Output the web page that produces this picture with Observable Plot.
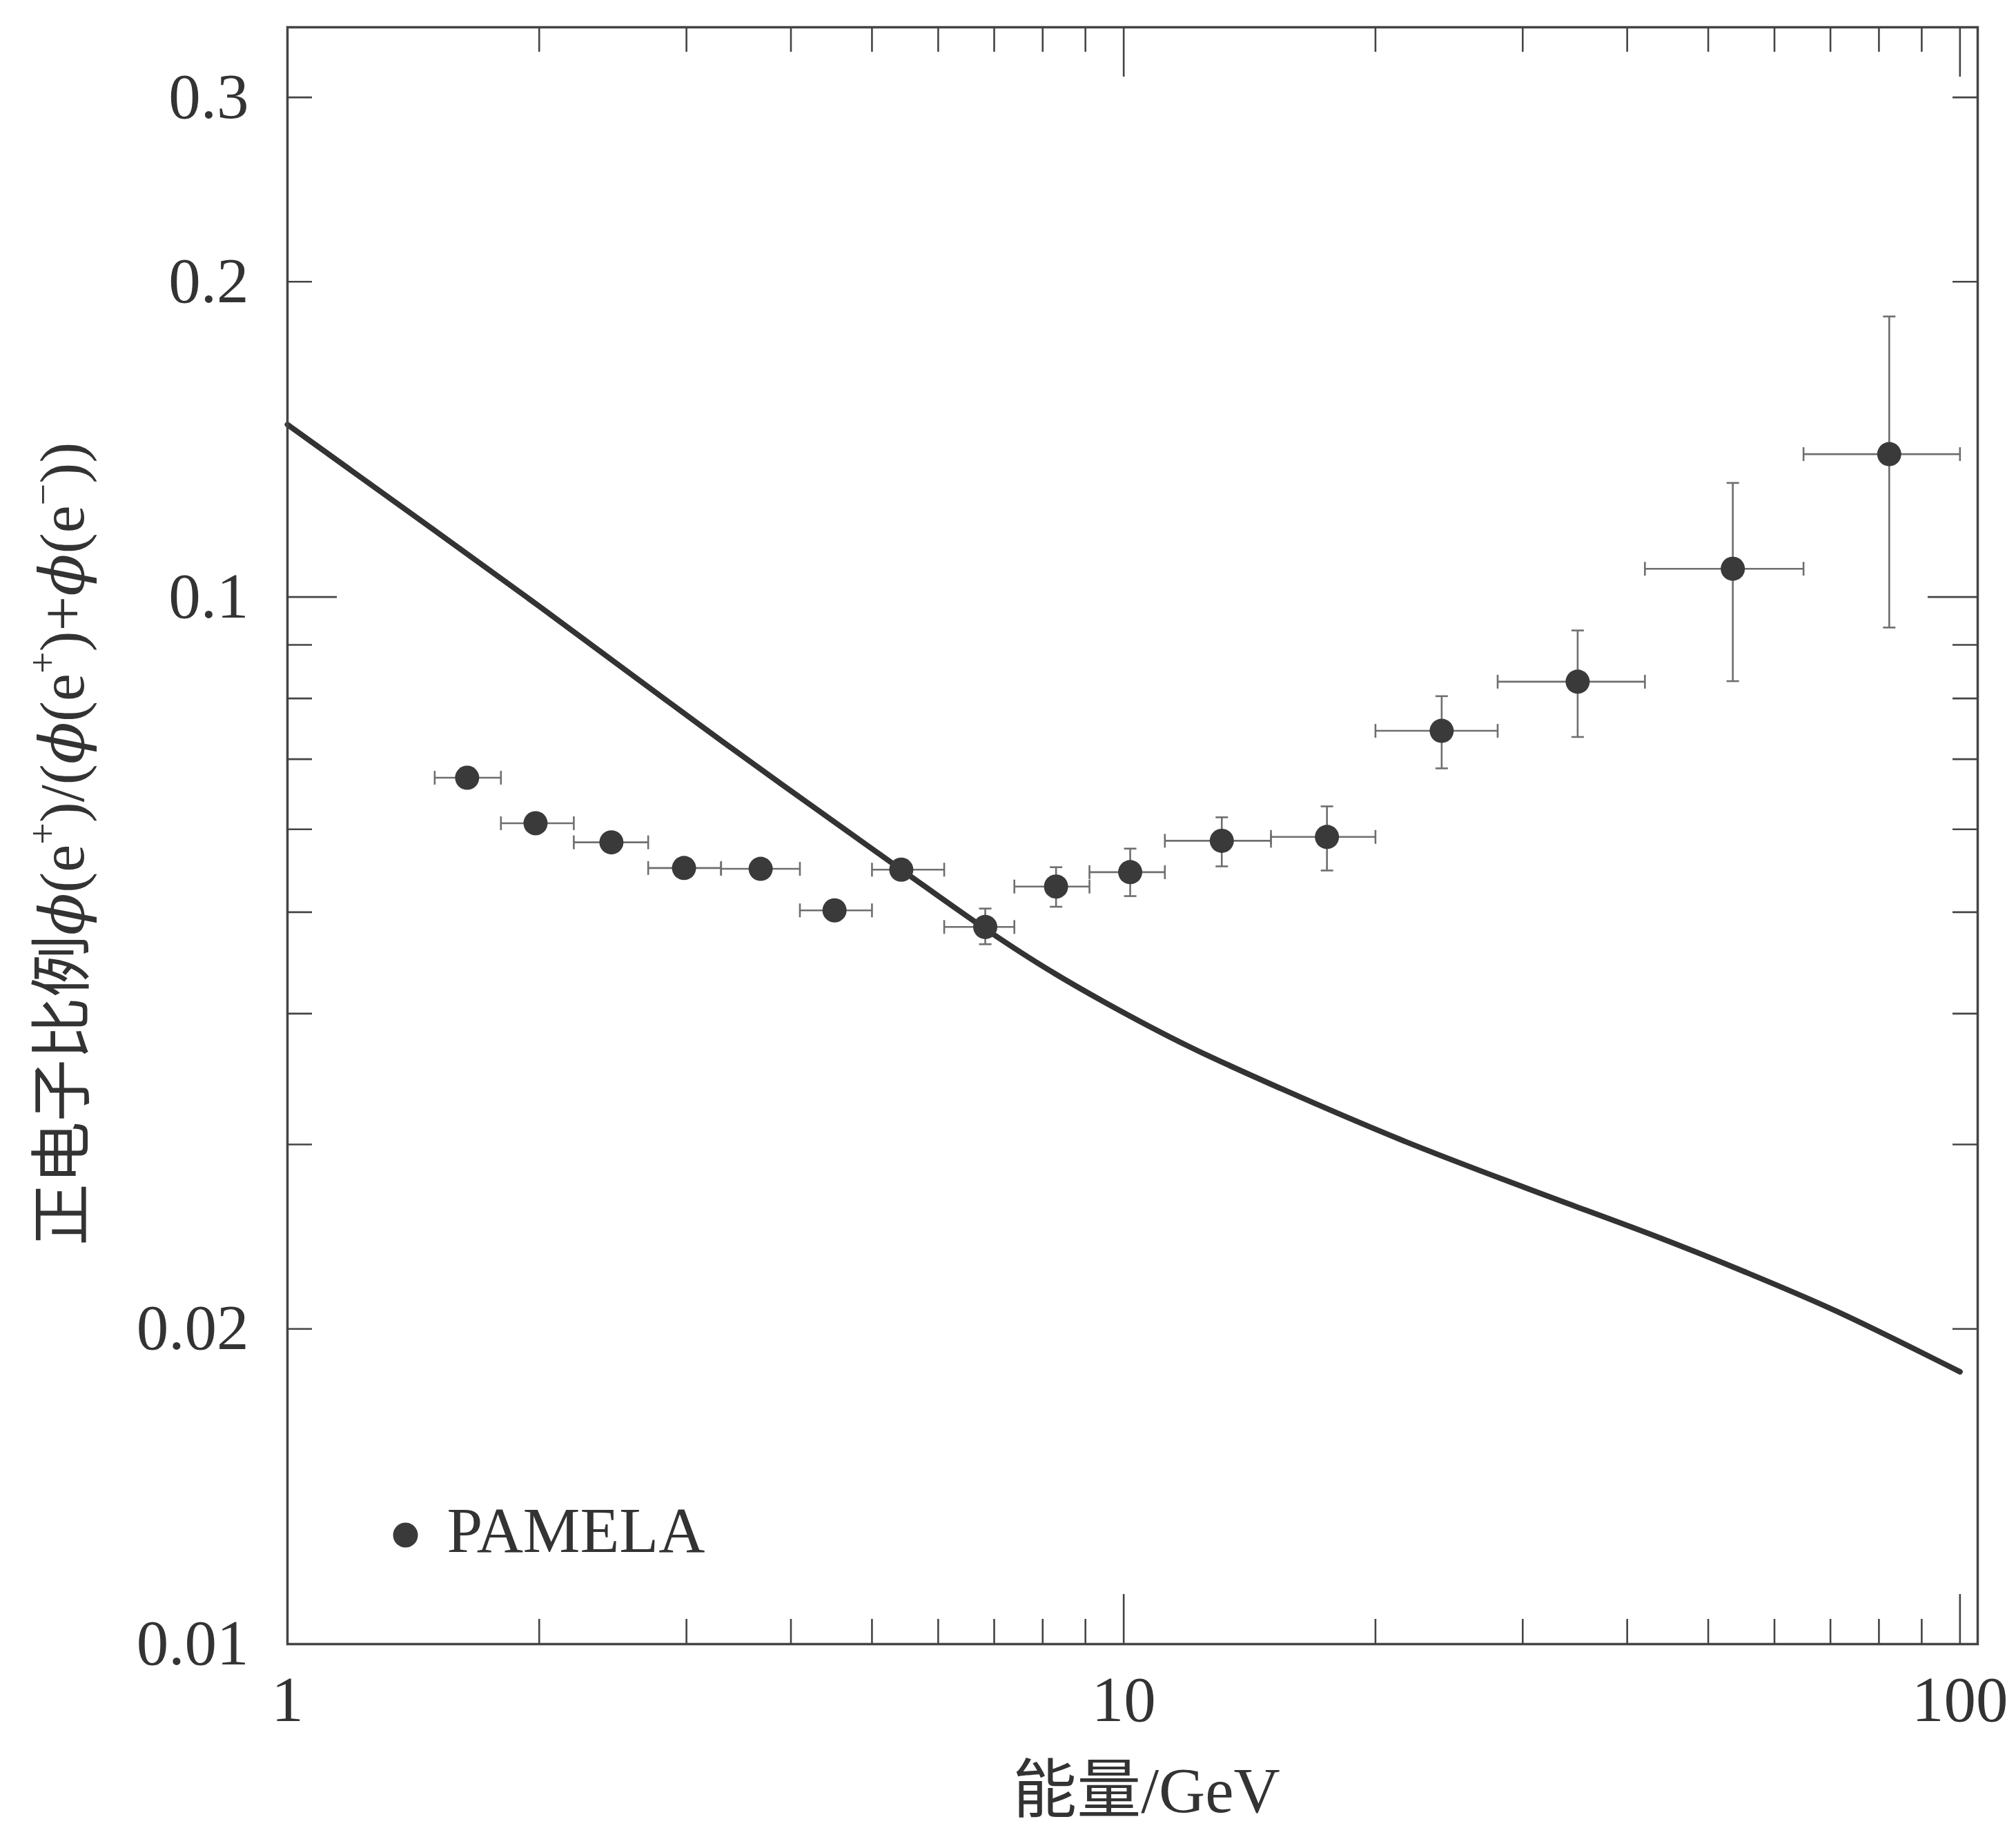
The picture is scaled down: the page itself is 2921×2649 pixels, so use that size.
<!DOCTYPE html>
<html>
<head>
<meta charset="utf-8">
<script src="https://cdn.jsdelivr.net/npm/d3@7"></script>
<script src="https://cdn.jsdelivr.net/npm/@observablehq/plot@0.6"></script>
<style>
  html, body { margin: 0; padding: 0; background: #fff; }
</style>
</head>
<body>
<script>
// PAMELA positron fraction: bin centres, bin edges, measured fraction and its error band
const energy   = [1.64, 1.98, 2.44, 2.98, 3.68, 4.51, 5.42, 6.83, 8.30, 10.18, 13.1, 17.5, 24.0, 34.9, 53.5, 82.3];
const binLow   = [1.5, 1.8, 2.2, 2.7, 3.3, 4.1, 5.0, 6.1, 7.4, 9.1, 11.2, 15, 20, 28, 42, 65];
const binHigh  = [1.8, 2.2, 2.7, 3.3, 4.1, 5.0, 6.1, 7.4, 9.1, 11.2, 15, 20, 28, 42, 65, 100];
const fraction = [0.0672, 0.0608, 0.0583, 0.0551, 0.0550, 0.0502, 0.0549, 0.0484, 0.0529, 0.0546, 0.0585, 0.0590, 0.0745, 0.0830, 0.1064, 0.1369];
const fracLow  = [0.0661, 0.0598, 0.0573, 0.0542, 0.0540, 0.0492, 0.0538, 0.0466, 0.0506, 0.0518, 0.0553, 0.0548, 0.0686, 0.0735, 0.0831, 0.0935];
const fracHigh = [0.0683, 0.0618, 0.0593, 0.0560, 0.0560, 0.0512, 0.0560, 0.0504, 0.0552, 0.0575, 0.0616, 0.0631, 0.0804, 0.0929, 0.1285, 0.1853];

// Secondary-production model curve
const modelEnergy   = [1, 2, 3.31, 5.42, 6.83, 8.0, 9.5, 11.98, 15.45, 21.7, 30.5, 42.8, 55.1, 71.1, 100];
const modelFraction = [0.1461, 0.0980, 0.0728, 0.0549, 0.0482, 0.0444, 0.0410, 0.0372, 0.0339, 0.0302, 0.0272, 0.0246, 0.0227, 0.0208, 0.0182];

// Axis ticks and labels
const xMajorTicks = [1, 10, 100];
const xMinorTicks = [2, 3, 4, 5, 6, 7, 8, 9, 20, 30, 40, 50, 60, 70, 80, 90];
const yMajorTicks = [0.01, 0.1];
const yMinorTicks = [0.02, 0.03, 0.04, 0.05, 0.06, 0.07, 0.08, 0.09, 0.2, 0.3];
const xTickLabels = [1, 10, 100];
const yTickLabels = [0.01, 0.02, 0.1, 0.2, 0.3];

const xTitle = "能量/GeV";
const legendLabel = "PAMELA";
// y title pieces: [text, style] where style is "phi" (italic) or "sup" (superscript)
const yTitleParts = [
  ["正电子比例", ""], ["ϕ", "phi"], ["(e", ""], ["+", "sup"], [")/(", ""],
  ["ϕ", "phi"], ["(e", ""], ["+", "sup"], [")+", ""],
  ["ϕ", "phi"], ["(e", ""], ["−", "sup"], ["))", ""]
];
const yTitle = yTitleParts.map(d => d[0]).join("");

const points = energy.map((e, i) => ({
  e, lo: binLow[i], hi: binHigh[i], f: fraction[i], fLo: fracLow[i], fHi: fracHigh[i]
}));
const model = modelEnergy.map((e, i) => ({e, f: modelFraction[i]}));

// layout
const W = 2921, H = 2649;
const margin = {top: 39, right: 56, bottom: 267, left: 416};
const innerW = W - margin.left - margin.right;
const innerH = H - margin.top - margin.bottom;
const major = 72, minor = 36;

const ink = "#3a3a3a";
const frameInk = "#444";
const errInk = "#6e6e6e";

// small line symbols for error-bar caps
const capVertical = {draw(ctx, size) { const h = Math.sqrt(size / Math.PI); ctx.moveTo(0, -h); ctx.lineTo(0, h); }};
const capHorizontal = {draw(ctx, size) { const w = Math.sqrt(size / Math.PI); ctx.moveTo(-w, 0); ctx.lineTo(w, 0); }};

const tickStyle = {stroke: frameInk, strokeWidth: 2.6};

const chart = Plot.plot({
  width: W,
  height: H,
  marginTop: margin.top,
  marginRight: margin.right,
  marginBottom: margin.bottom,
  marginLeft: margin.left,
  style: {
    fontFamily: '"Liberation Serif", "Noto Sans CJK SC", serif',
    fontSize: "93px",
    color: "#333",
    background: "#fff",
    overflow: "visible"
  },
  x: {type: "log", domain: [1, 105]},
  y: {type: "log", domain: [0.01, 0.35]},
  marks: [
    // inward ticks on all four sides
    Plot.tickX(xMajorTicks, {x: d => d, insetTop: innerH - major, ...tickStyle}),
    Plot.tickX(xMinorTicks, {x: d => d, insetTop: innerH - minor, ...tickStyle}),
    Plot.tickX(xMajorTicks, {x: d => d, insetBottom: innerH - major, ...tickStyle}),
    Plot.tickX(xMinorTicks, {x: d => d, insetBottom: innerH - minor, ...tickStyle}),
    Plot.tickY(yMajorTicks, {y: d => d, insetRight: innerW - major, ...tickStyle}),
    Plot.tickY(yMinorTicks, {y: d => d, insetRight: innerW - minor, ...tickStyle}),
    Plot.tickY(yMajorTicks, {y: d => d, insetLeft: innerW - major, ...tickStyle}),
    Plot.tickY(yMinorTicks, {y: d => d, insetLeft: innerW - minor, ...tickStyle}),

    Plot.axisX({ticks: xTickLabels, anchor: "bottom", tickSize: 0, tickPadding: 45,
                tickFormat: d => String(d), label: null, fontSize: 93, fill: "#333"}),
    Plot.axisY({ticks: yTickLabels, anchor: "left", tickSize: 0, tickPadding: 56,
                tickFormat: d => String(d), label: null, fontSize: 93, fill: "#333"}),

    // model curve
    Plot.line(model, {x: "e", y: "f", stroke: "#333", strokeWidth: 8, curve: "catmull-rom"}),

    // error bars
    Plot.ruleY(points, {y: "f", x1: "lo", x2: "hi", stroke: errInk, strokeWidth: 2.6}),
    Plot.ruleX(points, {x: "e", y1: "fLo", y2: "fHi", stroke: errInk, strokeWidth: 2.6}),
    Plot.dot(points, {x: "lo", y: "f", symbol: capVertical, r: 10, stroke: errInk, fill: "none", strokeWidth: 2.6}),
    Plot.dot(points, {x: "hi", y: "f", symbol: capVertical, r: 10, stroke: errInk, fill: "none", strokeWidth: 2.6}),
    Plot.dot(points, {x: "e", y: "fLo", symbol: capHorizontal, r: 9, stroke: errInk, fill: "none", strokeWidth: 2.6}),
    Plot.dot(points, {x: "e", y: "fHi", symbol: capHorizontal, r: 9, stroke: errInk, fill: "none", strokeWidth: 2.6}),

    // data points
    Plot.dot(points, {x: "e", y: "f", r: 17.5, fill: ink, stroke: "none"}),

    // legend
    Plot.dot([legendLabel], {frameAnchor: "bottom-left", dx: 171, dy: -158, r: 18, fill: ink, stroke: "none"}),
    Plot.text([legendLabel], {frameAnchor: "bottom-left", dx: 231, dy: -134, text: d => d,
                              textAnchor: "start", fontSize: 93, fill: "#333"}),

    // axis titles
    Plot.text([xTitle], {frameAnchor: "bottom", dx: 20, dy: 243, text: d => d, fontSize: 93, fill: "#333"}),
    Plot.text([yTitle], {frameAnchor: "left", dx: -324, dy: 12, rotate: -90, text: d => d, fontSize: 90, fill: "#333"}),

    Plot.frame({stroke: frameInk, strokeWidth: 3.5})
  ]
});

document.body.appendChild(chart);

// Italic phi and superscript charges in the y title, centred along its own axis
d3.select(chart).selectAll("text")
  .filter(function () { return this.textContent === yTitle; })
  .each(function () {
    const t = d3.select(this);
    t.text(null);
    let raised = false;
    for (const [s, kind] of yTitleParts) {
      const span = t.append("tspan").text(s);
      if (kind === "phi") span.attr("font-style", "italic").attr("font-family", '"DejaVu Serif", "Liberation Serif", serif');
      if (kind === "sup") {
        span.attr("font-size", 56).attr("dy", -40);
        raised = true;
      } else if (raised) {
        span.attr("dy", 40);
        raised = false;
      }
    }
    const len = this.getComputedTextLength();
    t.attr("text-anchor", "start").attr("x", -len / 2);
  });
</script>
</body>
</html>
